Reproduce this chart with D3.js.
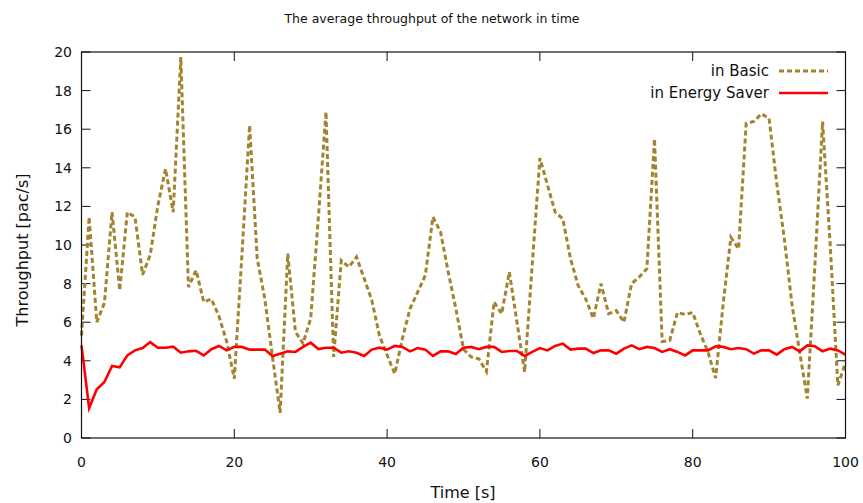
<!DOCTYPE html>
<html>
<head>
<meta charset="utf-8">
<script src="https://cdn.jsdelivr.net/npm/d3@7"></script>
<style>
  body { margin: 0; background: #fff; }
  text { font-family: "DejaVu Sans", Verdana, sans-serif; fill: #111; }
</style>
</head>
<body>
<svg id="chart" width="863" height="503"></svg>
<script>
// time axis, one sample per second
const tiempo = d3.range(0, 101);

const basico = [
  5.3, 11.45, 6.0, 7.0, 11.7, 7.65, 11.7, 11.45, 8.46, 9.5,
  12.05, 13.95, 11.7, 19.74, 7.82, 8.69, 7.05, 7.2, 6.3, 5.0,
  3.07, 9.5, 16.2, 9.3, 7.2, 4.2, 1.3, 9.55, 5.5, 4.9,
  6.2, 11.4, 16.9, 4.2, 9.2, 8.86, 9.38, 8.26, 7.13, 5.3,
  4.3, 3.33, 5.15, 6.7, 7.56, 8.43, 11.45, 10.67, 8.6, 6.7,
  4.6, 4.2, 4.1, 3.45, 7.05, 6.44, 8.6, 6.0, 3.42, 9.0,
  14.5, 13.1, 11.7, 11.36, 9.3, 7.9, 7.2, 6.2, 8.0, 6.44,
  6.6, 6.0, 8.0, 8.34, 8.77, 15.5, 5.0, 5.06, 6.5, 6.4,
  6.5, 5.4, 4.45, 3.1, 7.0, 10.4, 9.8, 16.3, 16.4, 16.8,
  16.55, 13.2, 10.3, 6.9, 4.45, 2.04, 9.0, 16.4, 10.0, 2.73,
  3.9
];

const ahorro = [
  4.8, 1.55, 2.52, 2.9, 3.73, 3.66, 4.28, 4.54, 4.66, 4.97,
  4.68, 4.68, 4.73, 4.42, 4.49, 4.52, 4.28, 4.6, 4.77, 4.54,
  4.72, 4.72, 4.58, 4.58, 4.58, 4.25, 4.37, 4.49, 4.46, 4.72,
  4.94, 4.61, 4.68, 4.68, 4.42, 4.49, 4.42, 4.25, 4.58, 4.68,
  4.58, 4.77, 4.72, 4.49, 4.66, 4.58, 4.25, 4.49, 4.49, 4.35,
  4.68, 4.72, 4.6, 4.72, 4.72, 4.46, 4.51, 4.51, 4.25, 4.46,
  4.66, 4.54, 4.77, 4.89, 4.58, 4.63, 4.63, 4.4, 4.54, 4.54,
  4.37, 4.63, 4.8, 4.6, 4.72, 4.66, 4.46, 4.6, 4.46, 4.28,
  4.54, 4.54, 4.54, 4.75, 4.72, 4.6, 4.66, 4.6, 4.37, 4.54,
  4.54, 4.32, 4.6, 4.72, 4.49, 4.8, 4.75, 4.49, 4.63, 4.54,
  4.32
];

const ticksX = [0, 20, 40, 60, 80, 100];
const ticksY = [0, 2, 4, 6, 8, 10, 12, 14, 16, 18, 20];
const series = [
  { nombre: "in Basic", valores: basico, color: "#a2832f", dash: "5,3", ancho: 3 },
  { nombre: "in Energy Saver", valores: ahorro, color: "#ff0000", dash: null, ancho: 2.6 }
];

const izq = 81.5, der = 845.5, arriba = 52, abajo = 438;
const svg = d3.select("#chart");

const x = d3.scaleLinear().domain([0, 100]).range([izq, der]);
const y = d3.scaleLinear().domain([0, 20]).range([abajo, arriba]);

// ticks on all four sides, pointing inward (gnuplot style)
const tickLen = 9;
const ejes = svg.append("g").attr("stroke", "#111").attr("stroke-width", 1);
ticksX.forEach(t => {
  ejes.append("line").attr("x1", x(t)).attr("x2", x(t)).attr("y1", abajo).attr("y2", abajo - tickLen);
  ejes.append("line").attr("x1", x(t)).attr("x2", x(t)).attr("y1", arriba).attr("y2", arriba + tickLen);
});
ticksY.forEach(t => {
  ejes.append("line").attr("x1", izq).attr("x2", izq + tickLen).attr("y1", y(t)).attr("y2", y(t));
  ejes.append("line").attr("x1", der).attr("x2", der - tickLen).attr("y1", y(t)).attr("y2", y(t));
});

svg.selectAll(".lblx")
  .data(ticksX)
  .enter().append("text")
  .attr("x", d => x(d))
  .attr("y", 467)
  .attr("text-anchor", "middle")
  .style("font-size", "14px")
  .text(d => d);

svg.selectAll(".lbly")
  .data(ticksY)
  .enter().append("text")
  .attr("x", 72)
  .attr("y", d => y(d) + 5)
  .attr("text-anchor", "end")
  .style("font-size", "14px")
  .text(d => d);

const linea = d3.line()
  .x((d, i) => x(tiempo[i]))
  .y(d => y(d));

const trazo = svg.append("g");
series.forEach(s => {
  trazo.append("path")
    .datum(s.valores)
    .attr("d", linea)
    .attr("fill", "none")
    .attr("stroke", s.color)
    .attr("stroke-width", s.ancho)
    .attr("stroke-dasharray", s.dash)
    .attr("stroke-linejoin", "miter");
});

// plot border
svg.append("rect")
  .attr("x", izq).attr("y", arriba)
  .attr("width", der - izq).attr("height", abajo - arriba)
  .attr("fill", "none")
  .attr("stroke", "#111")
  .attr("stroke-width", 1.2);

// legend
const leyenda = svg.append("g");
series.forEach((s, i) => {
  const ly = 71 + i * 22;
  leyenda.append("text")
    .attr("x", 769)
    .attr("y", ly + 5)
    .attr("text-anchor", "end")
    .style("font-size", "15px")
    .text(s.nombre);
  leyenda.append("line")
    .attr("x1", 779).attr("x2", 828)
    .attr("y1", ly).attr("y2", ly)
    .attr("stroke", s.color)
    .attr("stroke-width", s.ancho)
    .attr("stroke-dasharray", s.dash);
});

svg.append("text")
  .attr("x", 432)
  .attr("y", 23)
  .attr("text-anchor", "middle")
  .style("font-size", "12.5px")
  .text("The average throughput of the network in time");

svg.append("text")
  .attr("x", 463)
  .attr("y", 498)
  .attr("text-anchor", "middle")
  .style("font-size", "16px")
  .text("Time [s]");

svg.append("text")
  .attr("transform", "translate(28,250) rotate(-90)")
  .attr("text-anchor", "middle")
  .style("font-size", "16px")
  .text("Throughput [pac/s]");
</script>
</body>
</html>
